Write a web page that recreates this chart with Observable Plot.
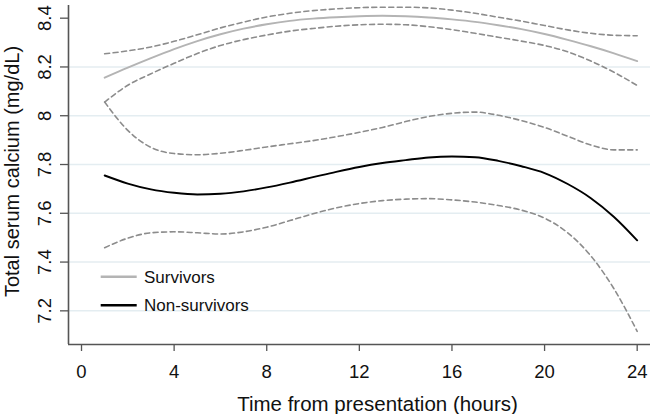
<!DOCTYPE html>
<html><head><meta charset="utf-8">
<script src="https://cdn.jsdelivr.net/npm/d3@7"></script>
<script src="https://cdn.jsdelivr.net/npm/@observablehq/plot@0.6"></script>
<style>html,body{margin:0;padding:0;background:#fff}</style>
</head><body><div id="chart"></div>
<script>
const hours = [1,2,3,4,5,6,7,8,9,10,11,12,13,14,15,16,17,18,19,20,21,22,23,24];
const survMean  = [8.156,8.197,8.236,8.273,8.306,8.334,8.357,8.375,8.389,8.398,8.404,8.408,8.410,8.408,8.403,8.395,8.385,8.371,8.355,8.335,8.311,8.285,8.256,8.224];
const survUpper = [8.254,8.266,8.282,8.305,8.332,8.360,8.384,8.405,8.420,8.431,8.438,8.443,8.445,8.445,8.442,8.433,8.420,8.404,8.388,8.370,8.352,8.338,8.330,8.328];
const survLower = [8.056,8.125,8.172,8.215,8.255,8.288,8.312,8.331,8.347,8.358,8.367,8.373,8.375,8.373,8.365,8.353,8.338,8.322,8.306,8.288,8.262,8.224,8.178,8.124];
const nonMean   = [7.755,7.722,7.698,7.684,7.677,7.680,7.690,7.706,7.726,7.748,7.770,7.790,7.806,7.818,7.829,7.833,7.830,7.815,7.793,7.765,7.720,7.662,7.585,7.489];
const nonUpper  = [8.056,7.940,7.870,7.845,7.840,7.846,7.858,7.872,7.885,7.898,7.914,7.932,7.952,7.976,7.997,8.010,8.015,8.002,7.980,7.952,7.916,7.880,7.860,7.860];
const nonLower  = [7.459,7.498,7.520,7.524,7.520,7.515,7.524,7.543,7.570,7.598,7.622,7.640,7.652,7.658,7.660,7.655,7.646,7.632,7.613,7.580,7.520,7.425,7.290,7.116];

const xTicks = [0,4,8,12,16,20,24];
const yTicks = [7.2,7.4,7.6,7.8,8,8.2,8.4];
const yTickLabels = ["7.2","7.4","7.6","7.8","8","8.2","8.4"];
const gridValues = [7.2,7.4,7.6,7.8,8,8.2];
const legendNames = ["Survivors","Non-survivors"];
const xTitle = "Time from presentation (hours)";
const yTitle = "Total serum calcium (mg/dL)";

const xDomain = [-0.562, 24.575];
const yDomain = [7.062, 8.452];

const toRows = vals => hours.map((h,i) => ({hour:h, value:vals[i]}));
const font = "'Liberation Sans', Arial, Helvetica, sans-serif";
const survColor = "#b4b4b4", nonColor = "#000000", ciColor = "#8c8c8c", axisColor = "#555555", textColor = "#111";

const chart = Plot.plot({
  width: 650, height: 414,
  marginLeft: 68, marginRight: 0, marginTop: 5, marginBottom: 70,
  style: {fontFamily: font, background: "#fff", color: textColor},
  x: {domain: xDomain},
  y: {domain: yDomain},
  marks: [
    Plot.ruleY(gridValues, {stroke: "#e4edf1", strokeWidth: 1.5}),
    Plot.line(toRows(survUpper), {x:"hour", y:"value", stroke: ciColor, strokeWidth: 1.6, strokeDasharray: "5,3.5", curve: "monotone-x"}),
    Plot.line(toRows(survLower), {x:"hour", y:"value", stroke: ciColor, strokeWidth: 1.6, strokeDasharray: "5,3.5", curve: "monotone-x"}),
    Plot.line(toRows(nonUpper), {x:"hour", y:"value", stroke: ciColor, strokeWidth: 1.6, strokeDasharray: "5,3.5", curve: "monotone-x"}),
    Plot.line(toRows(nonLower), {x:"hour", y:"value", stroke: ciColor, strokeWidth: 1.6, strokeDasharray: "5,3.5", curve: "monotone-x"}),
    Plot.line(toRows(survMean), {x:"hour", y:"value", stroke: survColor, strokeWidth: 1.9, curve: "monotone-x"}),
    Plot.line(toRows(nonMean), {x:"hour", y:"value", stroke: nonColor, strokeWidth: 1.9, curve: "monotone-x"}),
    Plot.axisX({ticks: xTicks, tickSize: 7, tickPadding: 13, fontSize: 18.5, label: null, stroke: axisColor, strokeWidth: 1.3, tickFormat: d => String(d)}),
    Plot.axisY({ticks: yTicks, tickSize: 8, tickFormat: () => "", label: null, stroke: axisColor, strokeWidth: 1.3}),
    Plot.text(yTicks, {y: d => d, text: (d,i) => yTickLabels[i], frameAnchor: "left", dx: -23, rotate: -90, textAnchor: "middle", lineAnchor: "middle", fontSize: 18.5, fill: textColor}),
    Plot.ruleY([yDomain[0]], {stroke: axisColor, strokeWidth: 1.6}),
    Plot.ruleX([xDomain[0]], {stroke: axisColor, strokeWidth: 1.6}),
    Plot.text([xTitle], {frameAnchor: "bottom", dx: 18, dy: 59.5, textAnchor: "middle", lineAnchor: "middle", fontSize: 20.5, fill: textColor}),
    Plot.text([yTitle], {frameAnchor: "left", dx: -56, dy: -3.5, rotate: -90, textAnchor: "middle", lineAnchor: "middle", fontSize: 20, fill: textColor})
  ]
});

const svg = d3.select(chart);
const lg = svg.append("g").attr("font-family", font).attr("font-size", 17).attr("text-anchor", "start");
const legendColors = [survColor, nonColor];
legendNames.forEach((name, i) => {
  const cy = 276.7 + i * 28.6;
  lg.append("line").attr("x1", 100.7).attr("x2", 136.7).attr("y1", cy).attr("y2", cy)
    .attr("stroke", legendColors[i]).attr("stroke-width", 2.4);
  lg.append("text").attr("x", 144).attr("y", cy).attr("dy", "0.35em").attr("text-anchor", "start").attr("fill", textColor).text(name);
});

document.getElementById("chart").appendChild(chart);
</script>
</body></html>
